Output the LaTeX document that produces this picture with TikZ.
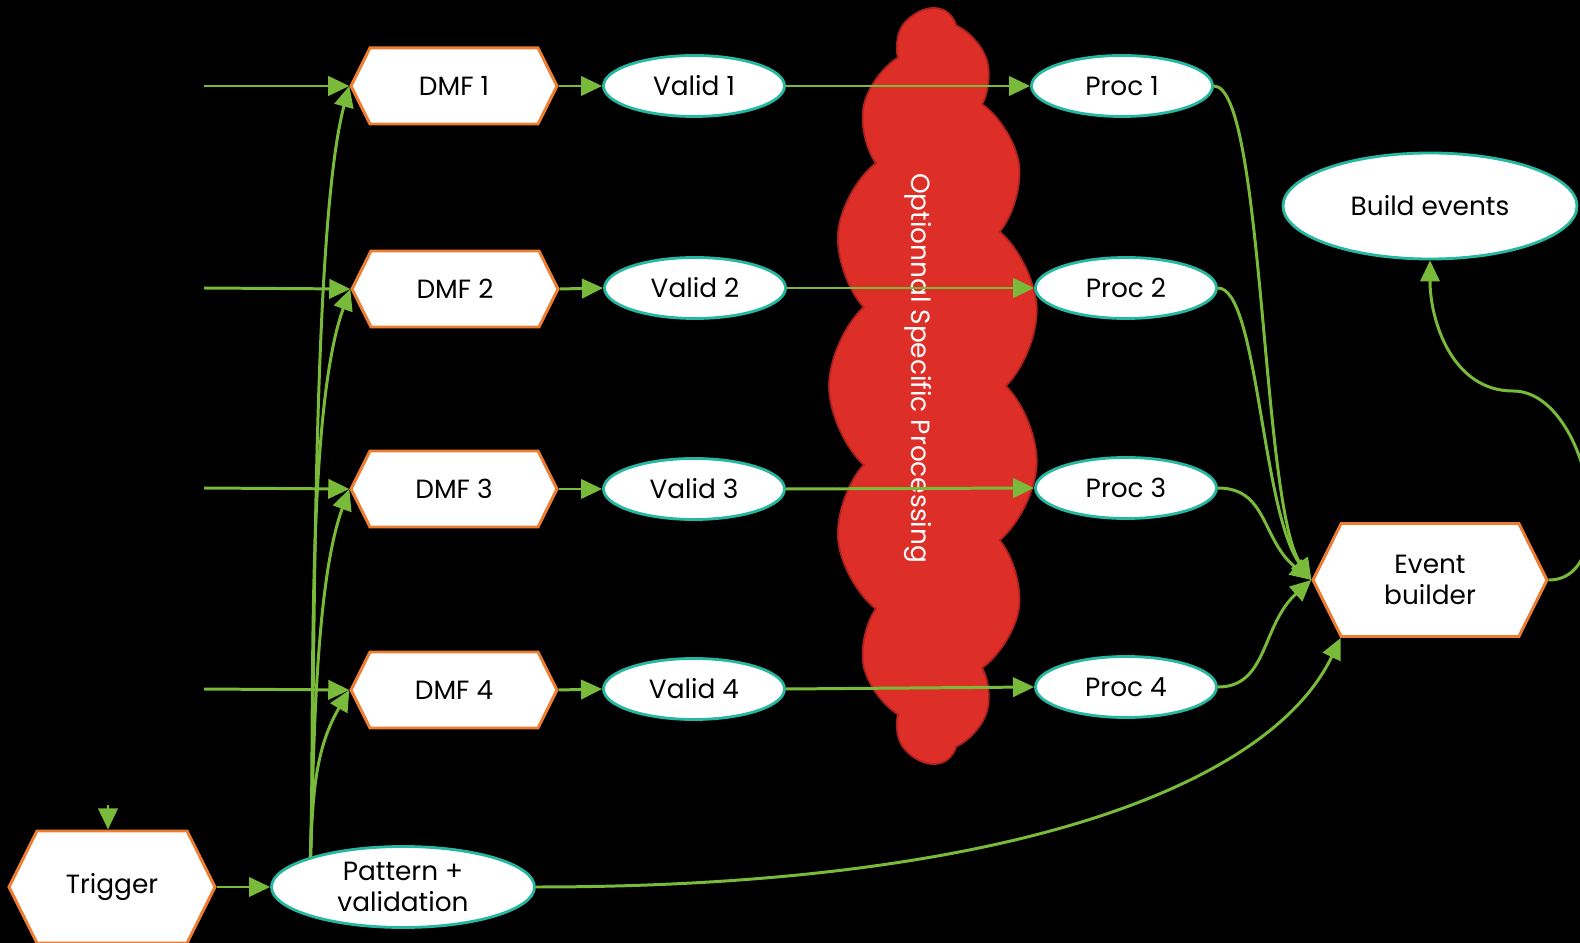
\documentclass[tikz,border=0pt]{standalone}
\usepackage{fontspec}
\setmainfont{Poppins}
\usepackage{tikz}
\definecolor{hexo}{RGB}{237,125,49}
\definecolor{ovl}{RGB}{38,183,160}
\definecolor{gre}{RGB}{122,186,58}
\definecolor{cld}{RGB}{222,46,40}
\definecolor{cldedge}{RGB}{176,34,30}
\usetikzlibrary{positioning,arrows.meta,shapes.symbols,shapes.geometric}

\tikzset{
  hexa/.style={signal, signal to=west and east, signal pointer angle=127, draw=hexo, line width=1.7pt, fill=white, inner sep=0pt, minimum width=4.12cm, minimum height=1.52cm, align=center, font=\fontsize{15}{18}\selectfont},
  oval/.style={ellipse, draw=ovl, line width=1.6pt, fill=white, inner sep=0pt, minimum width=3.62cm, minimum height=1.22cm, align=center, font=\fontsize{15}{18}\selectfont},
  flow/.style={gre, line width=1.7pt, -{Triangle[length=12pt,width=11pt]}},
}

\begin{document}
\begin{tikzpicture}
\path[use as bounding box, fill=black] (0,0) rectangle (31.6,-18.86);

% cloud behind everything
\node[cloud, cloud puffs=15, cloud puff arc=95, cloud ignores aspect, fill=cld, draw=cldedge, line width=1pt, minimum width=15.1cm, minimum height=4.2cm, rotate=90] (cloud) at (18.68,-7.72) {};
\node[text=white, rotate=-90, font=\fontsize{15}{18}\selectfont] (opt) at (18.36,-7.36) {Optionnal Specific Processing};

\node[hexa] (dmf1) at (9.08,-1.72) {DMF 1};
\node[hexa] (dmf2) at (9.10,-5.78) {DMF 2};
\node[hexa] (dmf3) at (9.08,-9.78) {DMF 3};
\node[hexa] (dmf4) at (9.08,-13.80) {DMF 4};

\node[oval] (val1) at (13.88,-1.72) {Valid 1};
\node[oval] (val2) at (13.90,-5.76) {Valid 2};
\node[oval] (val3) at (13.88,-9.78) {Valid 3};
\node[oval] (val4) at (13.88,-13.78) {Valid 4};

\node[oval] (proc1) at (22.44,-1.72) {Proc 1};
\node[oval] (proc2) at (22.52,-5.76) {Proc 2};
\node[oval] (proc3) at (22.52,-9.76) {Proc 3};
\node[oval] (proc4) at (22.52,-13.74) {Proc 4};

\node[hexa, minimum width=4.68cm, minimum height=2.26cm] (eb) at (28.60,-11.60) {Event\\builder};
\node[oval, minimum width=5.88cm, minimum height=2.12cm] (be) at (28.60,-4.12) {Build events};

\node[hexa, minimum width=4.12cm, minimum height=2.24cm] (trig) at (2.24,-17.74) {Trigger};
\node[oval, minimum width=5.26cm, minimum height=1.62cm] (pat) at (8.06,-17.74) {Pattern +\\validation};

\coordinate (in1) at (4.08,-1.72);
\coordinate (in2) at (4.08,-5.76);
\coordinate (in3) at (4.08,-9.76);
\coordinate (in4) at (4.08,-13.78);
\coordinate (tin) at (2.16,-16.1);
\coordinate (turn) at (30.26,-7.82);

% inputs
\draw[flow] (in1) -- (dmf1.west);
\draw[flow] (in2) -- (dmf2.west);
\draw[flow] (in3) -- (dmf3.west);
\draw[flow] (in4) -- (dmf4.west);
\draw[flow] (tin) -- (tin |- trig.north);

% pattern to the DMFs
\draw[flow] (pat.162) to[out=88,in=-105,looseness=0.5] (dmf1.west);
\draw[flow] (pat.162) to[out=88,in=-110,looseness=0.6] (dmf2.west);
\draw[flow] (pat.162) to[out=88,in=-110,looseness=0.7] (dmf3.west);
\draw[flow] (pat.162) to[out=88,in=-120] (dmf4.west);

\draw[flow] (dmf1.east) -- (val1.west);
\draw[flow] (dmf2.east) -- (val2.west);
\draw[flow] (dmf3.east) -- (val3.west);
\draw[flow] (dmf4.east) -- (val4.west);

\draw[flow] (val1.east) -- (proc1.west);
\draw[flow] (val2.east) -- (proc2.west);
\draw[flow] (val3.east) -- (proc3.west);
\draw[flow] (val4.east) -- (proc4.west);

% into the event builder
\draw[flow] (proc1.east) .. controls +(1.0,0) and +(-1.0,1.5) .. (eb.west);
\draw[flow] (proc2.east) .. controls +(0.8,0) and +(-1.0,1.4) .. (eb.west);
\draw[flow] (proc3.east) .. controls +(1.0,0) and +(-1.0,0.8) .. (eb.west);
\draw[flow] (proc4.east) .. controls +(1.0,0) and +(-1.0,-0.9) .. (eb.west);
\draw[flow] (trig.east) -- (pat.west);
\draw[flow] (pat.east) .. controls +(9.3,0) and +(-1.44,-3.0) .. (eb.213);

\draw[flow] (eb.east) to[out=0,in=0] (turn) to[out=180,in=-90] (be.south);
\end{tikzpicture}
\end{document}
